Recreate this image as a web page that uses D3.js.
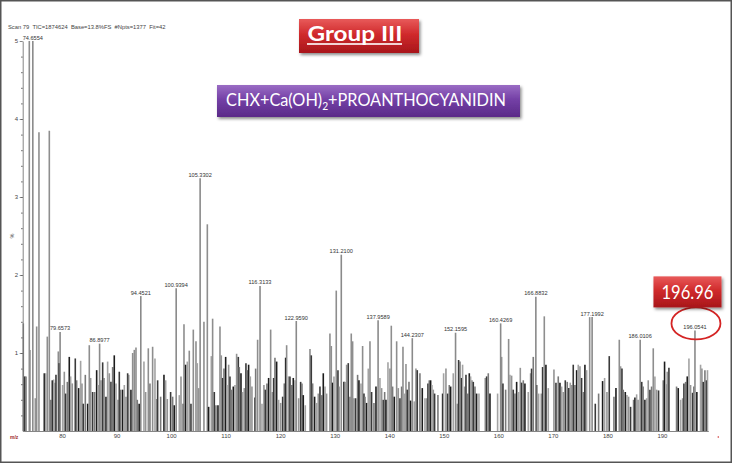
<!DOCTYPE html>
<html><head><meta charset="utf-8">
<script src="https://cdn.jsdelivr.net/npm/d3@7"></script>
<style>html,body{margin:0;padding:0;background:#fff;} svg{display:block;}</style>
</head><body>
<svg id="chart" width="732" height="463"></svg>
<script>
// ---------- DATA ----------
const headerText = "Scan 79  TIC=1874624  Base=13.8%FS  #Npts=1377  Fit=42";
const titleText = "Group III";
const subtitleMain = "CHX+Ca(OH)";
const subtitleSub = "2";
const subtitleTail = "+PROANTHOCYANIDIN";
const highlightText = "196.96";
const highlightMz = 196.0541;
const yAxisLabel = "%";
const xTicks = [80, 90, 100, 110, 120, 130, 140, 150, 160, 170, 180, 190];
const yTicks = [1, 2, 3, 4, 5];

const labelledMz  = [74.6554, 79.6573, 86.8977, 94.4521, 100.9394, 105.3302, 116.3133, 122.9590, 131.2100, 137.9589, 144.2307, 152.1595, 160.4269, 166.8832, 177.1992, 186.0106, 196.0541];
const labelledInt = [5.0, 1.27, 1.12, 1.73, 1.83, 3.24, 1.86, 1.41, 2.26, 1.42, 1.19, 1.26, 1.38, 1.72, 1.46, 1.17, 1.29];

const peakMz = [
72.91,73.16,73.40,74.01,74.13,75.11,75.36,75.78,76.76,77.01,77.31,77.68,77.92,78.23,78.47,78.72,78.90,79.33,79.51,80.12,
80.43,80.67,80.98,81.34,81.59,81.89,82.44,82.69,83.06,83.42,83.67,83.91,84.28,84.71,85.01,85.26,85.62,85.99,86.36,86.66,
87.15,87.46,87.70,88.07,88.37,88.68,88.98,89.29,89.59,89.90,90.27,90.51,90.76,91.12,91.43,91.73,92.04,92.22,92.65,92.96,
93.26,93.57,93.81,94.15,95.03,95.34,95.83,96.13,96.62,97.05,97.36,97.54,98.09,98.70,99.01,99.31,99.92,100.29,100.59,101.51,
101.82,102.24,102.37,102.67,102.98,103.34,103.65,104.08,
104.57,104.81,105.06,106.03,106.65,106.89,107.38,107.62,107.93,108.23,108.60,108.97,109.21,109.46,109.70,110.01,110.25,110.56,110.80,111.04,
111.41,111.72,112.02,112.33,112.51,112.82,113.12,113.43,113.73,113.98,114.22,114.53,114.83,115.38,115.51,115.87,116.67,117.03,117.28,117.58,
117.89,118.26,118.56,118.81,119.05,119.36,119.72,120.09,120.46,120.76,121.01,121.19,121.56,121.80,122.11,122.41,122.72,123.39,123.76,124.00,
124.24,124.61,125.47,125.71,125.96,126.32,126.69,126.99,127.30,127.61,127.91,128.22,128.52,129.13,129.38,129.62,129.87,130.29,130.60,130.78,
131.70,131.94,132.19,132.49,132.80,133.04,133.29,133.53,133.84,134.20,134.45,134.82,135.12,135.37,
135.55,135.86,136.16,136.47,136.77,137.20,137.57,138.30,138.61,138.91,139.16,139.40,139.77,140.13,140.38,140.62,140.93,141.36,141.66,141.97,
142.27,142.52,142.82,143.07,143.31,143.62,143.92,144.59,144.90,145.14,145.63,146.06,146.55,146.86,147.10,147.34,147.59,147.83,148.08,148.32,
148.93,149.79,149.97,150.40,150.71,151.01,151.26,151.74,152.48,152.72,152.97,153.27,153.45,153.82,154.07,154.37,154.68,154.92,155.17,155.41,
155.72,156.02,156.45,157.61,157.86,158.16,158.47,159.87,160.61,160.85,161.34,161.89,162.13,162.44,162.74,163.05,163.36,163.72,164.03,164.27,
164.58,164.88,165.49,165.92,
166.10,166.41,167.02,167.39,167.88,168.12,168.43,168.73,169.16,170.20,170.57,170.99,171.30,171.61,171.91,172.28,172.64,172.95,173.19,173.44,
173.74,174.05,174.36,174.66,174.97,175.27,175.58,175.88,176.19,176.75,177.78,178.39,179.12,179.49,179.92,180.34,181.20,181.57,182.18,182.42,
182.67,182.91,183.28,183.58,183.89,184.25,184.80,185.05,185.36,185.62,186.30,186.55,186.88,187.19,187.49,187.80,188.10,188.41,188.71,189.02,
189.38,190.24,190.48,190.85,190.97,191.28,192.68,192.99,193.42,193.79,194.03,194.34,194.64,194.95,195.25,195.62,195.85,196.40,197.08,197.33,
197.57,197.88,198.18,198.35
];
const peakInt = [
1.38,0.70,0.70,5.00,1.04,0.42,1.34,3.83,0.74,0.74,1.21,3.85,0.40,0.65,0.66,0.62,0.72,1.02,0.87,0.59,
0.76,0.48,0.63,0.95,0.70,0.61,0.93,0.65,0.55,0.90,0.61,0.35,0.72,0.35,1.10,0.68,0.50,0.50,0.78,0.59,
0.65,0.88,0.68,0.44,0.89,0.74,0.63,0.82,0.97,0.61,0.40,0.76,0.53,0.53,0.59,0.44,0.74,0.72,0.53,1.00,
1.04,1.07,0.40,0.35,0.89,0.50,1.06,0.61,1.08,0.93,0.41,0.65,0.44,0.72,0.65,0.41,0.50,0.44,0.33,0.46,
0.70,0.35,1.37,0.85,0.89,1.03,0.35,1.30,
1.15,0.87,0.55,1.40,2.65,0.31,0.96,1.44,0.50,0.33,0.33,1.34,0.97,0.68,0.80,0.95,0.59,0.85,0.70,0.53,
0.57,0.59,0.99,0.95,0.82,0.74,0.50,0.55,0.87,0.78,0.85,0.70,0.57,0.43,0.80,1.17,0.35,0.59,0.53,0.61,
0.68,1.30,0.50,0.68,0.94,0.89,0.40,0.36,0.44,0.61,0.94,1.10,0.70,0.70,0.59,0.68,0.65,0.42,0.63,0.61,
0.46,0.33,1.05,0.97,0.61,0.44,0.36,0.48,0.57,0.46,0.74,0.57,0.48,1.25,1.09,0.62,0.70,1.80,0.78,0.57,
0.63,0.63,0.85,0.87,0.44,1.25,1.15,0.42,0.42,0.72,0.65,0.61,1.09,0.48,
0.44,0.36,0.80,1.15,0.50,0.36,0.57,0.68,0.55,0.40,0.50,0.40,0.88,0.80,1.35,0.57,0.44,1.15,0.55,0.42,
0.57,1.08,0.48,0.86,0.53,0.63,0.39,0.38,0.80,0.78,0.74,0.55,0.42,0.42,0.61,0.65,0.65,0.59,0.53,0.48,
0.46,0.48,0.74,0.80,0.48,0.59,0.57,0.74,0.35,0.91,0.89,0.68,0.85,0.57,0.72,0.48,0.74,0.70,0.65,0.63,
0.57,0.48,0.48,0.68,0.70,0.74,0.48,0.48,0.95,0.61,0.53,1.18,0.72,0.71,0.53,0.48,0.63,0.50,0.81,0.62,
0.65,0.61,0.50,0.74,
0.80,0.95,0.59,0.48,0.48,0.82,1.47,0.85,0.55,0.79,0.62,0.70,0.62,0.57,0.50,0.65,0.63,0.55,0.62,0.59,
0.85,0.59,0.78,0.85,0.83,0.68,0.50,0.85,0.78,1.46,0.35,0.48,0.64,0.68,0.50,0.96,0.44,0.55,1.17,0.83,
0.80,0.53,0.50,0.46,0.44,0.31,0.40,0.43,0.47,0.40,0.63,0.57,0.40,0.42,0.65,0.53,0.57,1.06,0.70,0.53,
0.52,0.65,0.89,0.60,0.76,0.81,0.57,0.55,0.40,0.42,0.61,0.63,0.70,0.93,0.59,0.49,0.57,0.50,0.85,0.80,
0.63,0.78,0.65,0.78
];

// ---------- CHART ----------
const svg = d3.select("#chart");
const x = d3.scaleLinear().domain([72.8, 198.5]).range([22.7, 708.3]);
const y = d3.scaleLinear().domain([0, 5]).range([431, 41]);

const defs = svg.append("defs");
const shadow = defs.append("filter").attr("id", "shadow").attr("x", "-10%").attr("y", "-20%").attr("width", "130%").attr("height", "160%");
shadow.append("feDropShadow").attr("dx", 1.5).attr("dy", 2).attr("stdDeviation", 1.5).attr("flood-color", "#000").attr("flood-opacity", 0.45);
const gRed = defs.append("linearGradient").attr("id", "gRed").attr("x1", 0).attr("x2", 0).attr("y1", 0).attr("y2", 1);
gRed.append("stop").attr("offset", "0%").attr("stop-color", "#e85a5a");
gRed.append("stop").attr("offset", "45%").attr("stop-color", "#d02a2c");
gRed.append("stop").attr("offset", "100%").attr("stop-color", "#a8161a");
const gPur = defs.append("linearGradient").attr("id", "gPur").attr("x1", 0).attr("x2", 0).attr("y1", 0).attr("y2", 1);
gPur.append("stop").attr("offset", "0%").attr("stop-color", "#9a6cc4");
gPur.append("stop").attr("offset", "45%").attr("stop-color", "#7440a6");
gPur.append("stop").attr("offset", "100%").attr("stop-color", "#5a2a88");

// frame
svg.append("rect").attr("x", 0.75).attr("y", 0.75).attr("width", 730.5).attr("height", 461.5)
  .attr("fill", "#fff").attr("stroke", "#555").attr("stroke-width", 1.5);

// header
svg.append("text").attr("x", 8).attr("y", 29).attr("font-family", "Liberation Sans, Arial, sans-serif")
  .attr("font-size", 5.8).attr("fill", "#444").attr("xml:space", "preserve").text(headerText);

// bars
const peaks = peakMz.map((m, i) => ({mz: m, v: peakInt[i]}));
const labelled = labelledMz.map((m, i) => ({mz: m, v: labelledInt[i]}));
const shades = ["#949494", "#3a3a3a", "#7a7a7a", "#1c1c1c", "#a3a3a3"];
svg.append("g").selectAll("line").data(peaks).join("line")
  .attr("x1", d => x(d.mz)).attr("x2", d => x(d.mz))
  .attr("y1", y(0)).attr("y2", d => y(Math.min(d.v, 5)))
  .attr("stroke", (d, i) => d.v >= 1.0 ? "#8e8e8e" : shades[i % shades.length])
  .attr("stroke-width", 1.6);
svg.append("g").selectAll("line").data(labelled).join("line")
  .attr("x1", d => x(d.mz)).attr("x2", d => x(d.mz))
  .attr("y1", y(0)).attr("y2", d => y(Math.min(d.v, 5)))
  .attr("stroke", "#8a8a8a").attr("stroke-width", 1.6);

// peak labels
svg.append("g").selectAll("text").data(labelled).join("text")
  .attr("x", d => x(d.mz)).attr("y", d => y(Math.min(d.v, 5)) - 1.5)
  .attr("text-anchor", "middle").attr("font-family", "Liberation Sans, Arial, sans-serif")
  .attr("font-size", 5.6).attr("fill", "#333")
  .text(d => d3.format(".4f")(d.mz));

// axes
const yAxis = svg.append("g").attr("transform", `translate(${x.range()[0]},0)`)
  .call(d3.axisLeft(y).tickValues(yTicks).tickSize(3).tickSizeOuter(0).tickPadding(1.5).tickFormat(d3.format("d")));
svg.append("g").attr("transform", `translate(${x.range()[0]},0)`)
  .call(d3.axisLeft(y).tickValues(d3.range(0.2, 5, 0.2)).tickSize(1.6).tickFormat(""))
  .select(".domain").remove();
const xAxis = svg.append("g").attr("transform", `translate(0,${y(0)})`)
  .call(d3.axisBottom(x).tickValues(xTicks).tickSize(0).tickSizeOuter(0).tickPadding(3));
[yAxis, xAxis].forEach(g => {
  g.selectAll("text").attr("font-family", "Liberation Sans, Arial, sans-serif").attr("font-size", 6).attr("fill", "#444");
  g.selectAll("path,line").attr("stroke", "#666").attr("stroke-width", 0.8);
});
svg.selectAll("g line").filter(function(){ return this.parentNode.classList && this.parentNode.classList.contains("tick"); })
  .attr("stroke", "#666");

svg.append("text").attr("transform", `translate(14,${(y(0) + y(5)) / 2}) rotate(-90)`)
  .attr("text-anchor", "middle").attr("font-family", "Liberation Sans, Arial, sans-serif")
  .attr("font-size", 5.5).attr("fill", "#555").text(yAxisLabel);

// small axis markers
svg.append("text").attr("x", 10).attr("y", 439).attr("font-family", "Liberation Sans, Arial, sans-serif")
  .attr("font-size", 5).attr("font-weight", "bold").attr("fill", "#a02a2a").text("m/z");
svg.append("circle").attr("cx", x.range()[1] + 10).attr("cy", y(0) + 6).attr("r", 0.8).attr("fill", "#d03030");

// helper to fit text width
function fitText(sel, targetW, cx) {
  const w = sel.node().getComputedTextLength();
  const s = targetW / w;
  sel.attr("transform", `translate(${cx},0) scale(${s},1) translate(${-cx},0)`);
}

// Title box
svg.append("rect").attr("x", 299).attr("y", 19).attr("width", 120).attr("height", 34)
  .attr("fill", "url(#gRed)").attr("filter", "url(#shadow)");
const t1 = svg.append("text").attr("x", 355).attr("y", 41).attr("text-anchor", "middle")
  .attr("font-family", "Lato, 'Open Sans', sans-serif").attr("font-weight", "bold").attr("font-size", 21)
  .attr("fill", "#fff").text(titleText);
fitText(t1, 95, 355);
svg.append("rect").attr("x", 307).attr("y", 43.2).attr("width", 95).attr("height", 1.6).attr("fill", "#fff");

// Subtitle box
svg.append("rect").attr("x", 217).attr("y", 85).attr("width", 303).attr("height", 32)
  .attr("fill", "url(#gPur)").attr("filter", "url(#shadow)");
const t2 = svg.append("text").attr("x", 366).attr("y", 106).attr("text-anchor", "middle")
  .attr("font-family", "Lato, 'Open Sans', sans-serif").attr("font-size", 17.5).attr("fill", "#fff");
t2.append("tspan").text(subtitleMain);
t2.append("tspan").attr("dy", 4).attr("font-size", 11).text(subtitleSub);
t2.append("tspan").attr("dy", -4).text(subtitleTail);
fitText(t2, 280, 366);

// Highlight annotation
const hx = x(highlightMz) + 1;
const hIdx = labelledMz.indexOf(highlightMz);
const hy = y(labelledInt[hIdx]) - 7;
svg.append("ellipse").attr("cx", hx).attr("cy", hy).attr("rx", 24.5).attr("ry", 16)
  .attr("fill", "none").attr("stroke", "#d42424").attr("stroke-width", 1.8);
svg.append("rect").attr("x", hx - 42.5).attr("y", hy - 16 - 31).attr("width", 68).attr("height", 31)
  .attr("fill", "url(#gRed)").attr("filter", "url(#shadow)");
const t3 = svg.append("text").attr("x", hx - 8.5).attr("y", hy - 16 - 8.5).attr("text-anchor", "middle")
  .attr("font-family", "Lato, 'Open Sans', sans-serif").attr("font-size", 19).attr("fill", "#fff").text(highlightText);
fitText(t3, 52, hx - 8.5);
</script>
</body></html>
